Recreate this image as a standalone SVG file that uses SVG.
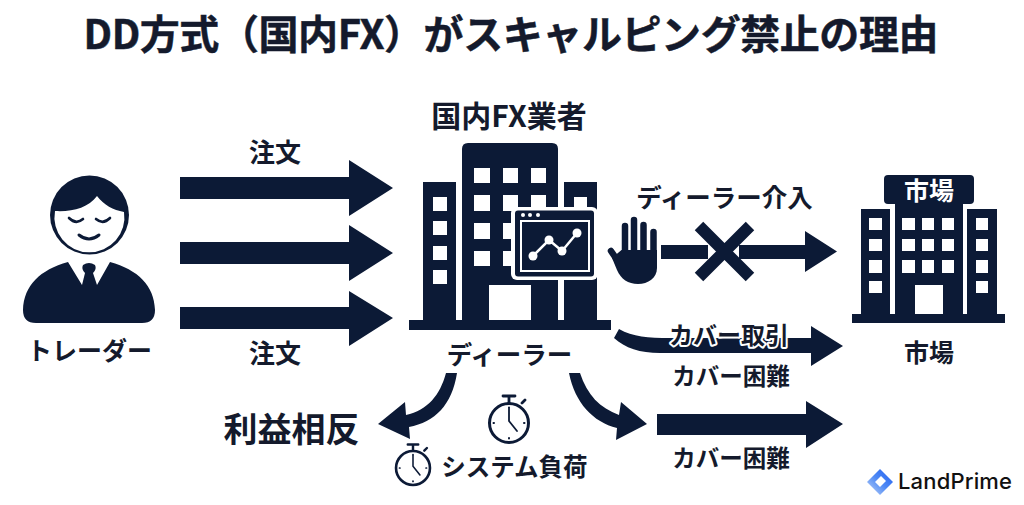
<svg xmlns="http://www.w3.org/2000/svg" width="1024" height="505" viewBox="0 0 1024 505">
<style>
text{font-family:"Noto Sans CJK JP","Noto Sans",sans-serif;font-weight:700;fill:#141a2c;text-anchor:middle}
.d{fill:#0c1a36}
.w{fill:#fff}
.line{fill:none;stroke:#0c1a36;stroke-linecap:round}
.halo{paint-order:stroke;stroke:#fff;stroke-width:4px;stroke-linejoin:round}
</style>
<defs>
<linearGradient id="lg" x1="1" y1="0" x2="0" y2="1"><stop offset="0" stop-color="#1f5cf0"/><stop offset=".5" stop-color="#4f8af5"/><stop offset="1" stop-color="#c2d6f8"/></linearGradient>
<g id="watch">
<circle r="19.5" fill="#fff" stroke="#0c1a36" stroke-width="3"/>
<path class="line" stroke-width="2.800" d="M-6 -27H6M0 -27V-20M13 -20L16 -23"/>
<path class="line" stroke-width="1.800" d="M0 -14V-2L8 8"/>
<path class="line" stroke-width="2" d="M0 -15.500V-15M0 15V15.500M-15.500 0H-15M15 0H15.500"/>
</g>
</defs>
<rect width="1024" height="505" fill="#fff"/>
<text id="title" x="511" y="49" font-size="40" textLength="855" lengthAdjust="spacing" style="stroke:#141a2c;stroke-width:.5px">DD方式（国内FX）がスキャルピング禁止の理由</text>

<g id="connectors">
<path class="d" d="M180 177H349V160L393 188L349 216V199H180Z"/>
<path class="d" d="M180 242H349V225L393 253L349 281V264H180Z"/>
<path class="d" d="M180 307H349V291L393 318L349 346V329H180Z"/>
<path class="d" d="M661 245H708V259H661Z"/>
<path class="d" d="M739 245H805V231L837 251.500L805 272V259H739Z"/>
<path class="line" style="stroke-linecap:butt" stroke-width="12" d="M699 226L750 277M750 226L699 277"/>
<path class="d" d="M619 329C633 337 648 338 670 338H811V326L843 346L811 366V353H660C640 353 625 348 614 338Z"/>
<path class="d" d="M657 414H806V401L843 424L806 448V435H657Z"/>
<path class="d" d="M446 373C440 395 428 410 406 415L405 402L378 424L410 439L409 427C435 422 452 405 457 373Z"/>
<path class="d" d="M569 373C575 403 593 422 617 428L616 440L647 424L621 402L619 415C600 408 587 395 580 373Z"/>
</g>

<g id="trader">
<circle cx="89.500" cy="215" r="39.500" class="d"/>
<path class="w" d="M55 211C72 212 88 208 97 196C104 205 113 210 124 212A35 35 0 1 1 55 211Z"/>
<path class="line" stroke-width="2.600" d="M69 218Q76 225 83 219M96 219Q103 225 110 218"/>
<path class="line" stroke-width="3" d="M79 235Q89 243 99 235"/>
<path class="d" d="M68 262C40 270 24 285 23 310Q23 323 36 323H142Q155 323 155 310C154 285 138 270 110 262L97 285L93 273Q97 269 95 265Q89 261 83 265Q81 269 85 273L82 285Z"/>
<text x="89.500" y="360" font-size="25">トレーダー</text>
</g>

<text id="order-top" x="275" y="162" font-size="26">注文</text>
<text id="order-bottom" x="275" y="363" font-size="26">注文</text>

<g id="broker">
<text x="509" y="127" font-size="30">国内FX業者</text>
<rect x="409" y="320" width="202" height="10" class="d"/>
<path class="d" d="M462 320V149Q462 143 468 143H552Q558 143 558 149V320Z"/>
<rect x="423" y="182" width="33" height="138" class="d"/>
<rect x="564" y="182" width="33" height="138" class="d"/>
<g class="w">
<rect x="474" y="168" width="16" height="15"/><rect x="503" y="168" width="15" height="15"/><rect x="531" y="168" width="15" height="15"/>
<rect x="474" y="195" width="16" height="16"/><rect x="503" y="195" width="15" height="16"/><rect x="531" y="195" width="15" height="16"/>
<rect x="474" y="223" width="16" height="16"/><rect x="503" y="223" width="15" height="16"/>
<rect x="474" y="251" width="16" height="15"/><rect x="503" y="251" width="15" height="15"/>
<rect x="433" y="197" width="14" height="14"/><rect x="433" y="221" width="14" height="14"/><rect x="433" y="246" width="14" height="14"/><rect x="433" y="270" width="14" height="14"/>
<rect x="574" y="197" width="13" height="14"/>
<rect x="489" y="285" width="42" height="35"/>
<rect x="511" y="207" width="87" height="73" rx="6"/>
<rect x="558" y="280" width="6" height="40"/>
</g>
<rect x="515" y="210.500" width="79" height="66" rx="3" class="d"/>
<rect x="521" y="221" width="68" height="50" fill="none" stroke="#fff" stroke-width="2"/>
<g class="w"><circle cx="523" cy="215" r="2"/><circle cx="530" cy="215" r="2"/><circle cx="538" cy="215" r="2"/>
<circle cx="533" cy="256" r="4.500"/><circle cx="549" cy="240" r="4.500"/><circle cx="562" cy="251" r="4.500"/><circle cx="577" cy="233" r="4.500"/></g>
<path fill="none" stroke="#fff" stroke-width="2.500" d="M533 256L549 240L562 251L577 233"/>
<text x="509.500" y="364" font-size="25.500">ディーラー</text>
</g>

<g id="dealer-intervention">
<text x="724.500" y="207" font-size="25.500">ディーラー介入</text>
<g class="line" stroke-width="6.500"><path d="M625 226V256M634 220V256M643.500 225V256M653.500 232V256M611 251L622 267"/></g>
<path class="d" d="M621.500 250H657V268C657 278 648 284 638 284C628 284 621 279 617 270L612 258Z"/>
<path fill="none" stroke="#fff" stroke-width="1" d="M629.500 226V250M638.700 226V250M648.500 232V250"/>
</g>

<g id="market">
<rect x="852" y="314" width="153" height="9" class="d"/>
<rect x="884" y="175" width="90" height="29" rx="4" class="d"/>
<rect x="895" y="204" width="68" height="110" class="d"/>
<rect x="861" y="209" width="29" height="105" class="d"/>
<rect x="967" y="209" width="30" height="105" class="d"/>
<g class="w">
<rect x="902" y="218" width="13" height="12"/><rect x="922" y="218" width="12" height="12"/><rect x="942" y="218" width="12" height="12"/>
<rect x="902" y="239" width="13" height="12"/><rect x="922" y="239" width="12" height="12"/><rect x="942" y="239" width="12" height="12"/>
<rect x="902" y="260" width="13" height="13"/><rect x="922" y="260" width="12" height="13"/><rect x="942" y="260" width="12" height="13"/>
<rect x="869" y="218" width="13" height="12"/><rect x="869" y="239" width="13" height="12"/><rect x="869" y="260" width="13" height="13"/><rect x="869" y="281" width="13" height="12"/>
<rect x="976" y="218" width="12" height="12"/><rect x="976" y="239" width="12" height="12"/><rect x="976" y="260" width="12" height="13"/><rect x="976" y="281" width="12" height="12"/>
<rect x="915" y="285" width="28" height="29"/>
</g>
<text x="929" y="200" font-size="25" style="fill:#fff">市場</text>
<text x="929" y="362" font-size="25">市場</text>
</g>

<text id="cover-trade" class="halo" x="729" y="344" font-size="24">カバー取引</text>
<text id="cover-hard-1" x="731" y="385" font-size="23.500">カバー困難</text>
<text id="cover-hard-2" x="731" y="467" font-size="23.500">カバー困難</text>
<text id="conflict" x="291.500" y="442" font-size="34">利益相反</text>
<use id="watch-1" href="#watch" x="509" y="423"/>
<g id="system-load">
<use href="#watch" transform="translate(413 468) scale(.87)"/>
<text x="514.500" y="476" font-size="24.500">システム負荷</text>
</g>

<g id="logo">
<path fill="url(#lg)" d="M880 469L893 482L880 495L867 482Z"/>
<path class="w" d="M881 476L886 481L880 487L875 482Z"/>
<text x="955" y="489" font-size="22" textLength="114" lengthAdjust="spacing" style="font-family:Inter,sans-serif;font-weight:500;fill:#111">LandPrime</text>
</g>
</svg>
